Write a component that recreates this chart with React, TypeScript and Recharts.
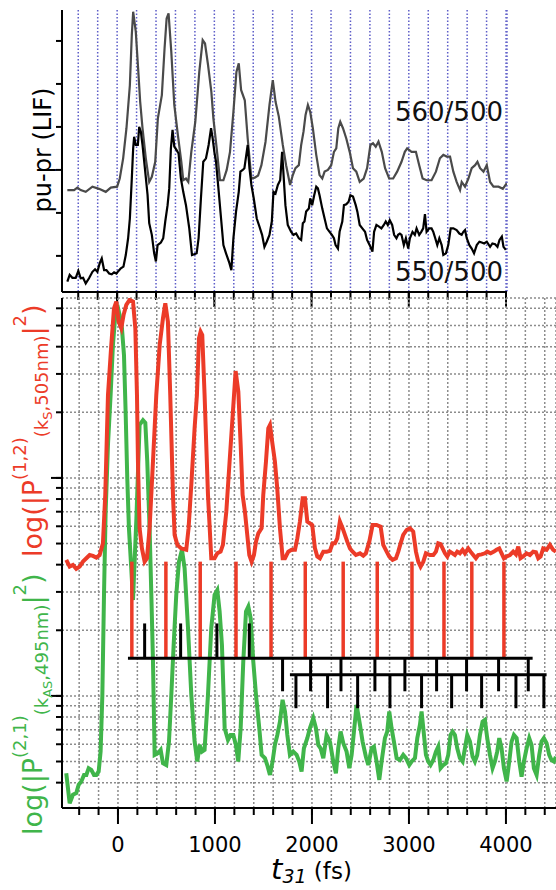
import React from 'react';
import { LineChart, Line, XAxis, YAxis, CartesianGrid, ReferenceLine } from 'recharts';

// pump-probe LIF traces (top panel), [t31 fs, signal]
const lif560 = [
  [-512, 2.53], [-443, 2.53], [-409, 2.59], [-375, 2.53], [-323, 2.49], [-254, 2.61], [-186, 2.56], [-117, 2.49],
  [-65, 2.59], [0, 2.61], [27, 2.8], [62, 3.27], [96, 3.97], [131, 4.97], [151, 6.14], [165, 6.68], [192, 6.21],
  [216, 5.36], [237, 4.59], [261, 3.97], [295, 3.27], [330, 2.72], [357, 2.84], [392, 3.19], [419, 4.2], [460, 4.74],
  [488, 5.83], [509, 6.52], [529, 6.64], [557, 5.75], [588, 4.51], [625, 3.81], [660, 3.19], [680, 2.76], [708, 2.8],
  [732, 2.72], [763, 3.42], [804, 4.12], [845, 5.28], [880, 6.02], [904, 5.94], [935, 5.44], [969, 4.82], [990, 4.2],
  [1024, 3.5], [1058, 2.76], [1093, 2.76], [1127, 3.0], [1161, 3.42], [1196, 4.35], [1227, 5.28], [1251, 5.48],
  [1275, 4.86], [1313, 4.62], [1343, 3.73], [1381, 2.8], [1416, 2.82], [1450, 2.87], [1484, 3.11], [1526, 3.65],
  [1567, 4.51], [1601, 5.09], [1629, 4.59], [1663, 4.24], [1704, 3.58], [1738, 3.11], [1779, 2.65], [1807, 2.88],
  [1834, 3.04], [1869, 3.11], [1893, 3.58], [1917, 3.89], [1938, 4.28], [1962, 4.51], [1986, 4.35], [2013, 3.97],
  [2048, 3.35], [2082, 2.88], [2110, 2.8], [2134, 2.96], [2168, 3.0], [2202, 3.11], [2230, 3.42], [2254, 3.5],
  [2275, 3.97], [2295, 4.12], [2323, 3.97], [2357, 3.73], [2392, 3.42], [2426, 3.04], [2460, 2.96], [2495, 2.72],
  [2536, 2.8], [2571, 3.04], [2605, 3.58], [2632, 3.62], [2660, 3.54], [2688, 3.66], [2722, 3.42], [2756, 3.04],
  [2798, 2.8], [2839, 2.8], [2880, 2.96], [2925, 3.19], [2959, 3.42], [2983, 3.5], [3028, 3.42], [3073, 3.42],
  [3107, 3.11], [3142, 2.8], [3183, 2.76], [3234, 2.76], [3279, 2.96], [3320, 3.27], [3355, 3.35], [3389, 3.31],
  [3424, 3.31], [3458, 2.96], [3492, 2.72], [3527, 2.53], [3544, 2.72], [3578, 2.61], [3613, 2.8], [3647, 3.04],
  [3682, 3.11], [3706, 3.19], [3733, 3.04], [3768, 2.96], [3802, 3.11], [3836, 2.72], [3871, 2.61], [3923, 2.61],
  [3967, 2.56], [4008, 2.69],
];

const lif550 = [
  [-512, 0.4], [-488, 0.56], [-460, 0.49], [-426, 0.49], [-399, 0.65], [-375, 0.48], [-350, 0.49], [-323, 0.36],
  [-289, 0.48], [-254, 0.63], [-227, 0.69], [-203, 0.63], [-179, 0.83], [-158, 0.94], [-134, 0.67], [-110, 0.67],
  [-82, 0.59], [-55, 0.57], [-31, 0.62], [-7, 0.59], [14, 0.65], [38, 0.71], [65, 0.75], [89, 1.02], [113, 1.41],
  [131, 1.87], [151, 2.8], [165, 3.5], [175, 3.77], [192, 3.58], [213, 3.58], [227, 4.0], [244, 3.89], [261, 3.58],
  [289, 2.96], [313, 2.42], [330, 1.76], [357, 1.49], [381, 1.06], [399, 0.87], [416, 1.25], [450, 1.31], [474, 1.41],
  [495, 1.8], [519, 2.18], [536, 2.57], [553, 3.5], [570, 3.93], [588, 3.54], [612, 3.46], [632, 3.38], [656, 2.8],
  [680, 2.49], [708, 2.18], [742, 1.64], [770, 1.02], [794, 1.04], [818, 1.06], [838, 1.41], [862, 2.34], [886, 3.19],
  [914, 3.27], [941, 3.58], [966, 3.97], [983, 3.73], [1000, 3.42], [1017, 3.19], [1045, 2.49], [1069, 1.87],
  [1093, 1.25], [1120, 1.06], [1155, 0.83], [1175, 0.67], [1196, 1.41], [1223, 2.03], [1251, 2.49], [1268, 2.96],
  [1292, 3.0], [1309, 3.04], [1326, 3.31], [1343, 3.58], [1361, 3.04], [1381, 2.65], [1405, 2.34], [1436, 1.87],
  [1464, 1.68], [1491, 1.49], [1515, 1.21], [1539, 1.33], [1567, 1.49], [1591, 1.8], [1608, 2.49], [1629, 2.45],
  [1653, 2.65], [1677, 2.76], [1697, 3.42], [1731, 2.18], [1755, 1.72], [1790, 1.56], [1814, 1.49], [1841, 1.52],
  [1869, 1.41], [1893, 1.37], [1910, 1.76], [1927, 1.8], [1944, 2.03], [1972, 2.1], [1986, 2.34], [2006, 2.18],
  [2027, 2.41], [2048, 2.61], [2065, 2.57], [2082, 2.41], [2110, 2.1], [2134, 1.87], [2158, 1.64], [2185, 1.56],
  [2209, 1.49], [2230, 1.41], [2247, 1.25], [2271, 1.17], [2288, 1.56], [2316, 1.8], [2333, 2.18], [2357, 2.2],
  [2381, 2.26], [2399, 2.41], [2426, 2.38], [2454, 2.18], [2471, 2.03], [2495, 1.72], [2522, 1.64], [2550, 1.56],
  [2571, 1.37], [2598, 1.25], [2626, 1.1], [2643, 1.56], [2667, 1.72], [2694, 1.68], [2718, 1.64], [2743, 1.72],
  [2763, 1.8], [2784, 1.72], [2804, 1.83], [2829, 1.72], [2849, 1.49], [2873, 1.41], [2890, 1.49], [2908, 1.52],
  [2925, 1.49], [2949, 1.25], [2970, 1.41], [2994, 1.17], [3011, 1.41], [3038, 1.56], [3062, 1.49], [3080, 1.64],
  [3107, 1.49], [3128, 1.56], [3148, 1.64], [3166, 1.97], [3183, 1.56], [3210, 1.64], [3234, 1.64], [3252, 1.56],
  [3272, 1.41], [3293, 1.25], [3314, 1.41], [3338, 1.25], [3355, 1.02], [3382, 1.06], [3406, 1.25], [3431, 1.64],
  [3458, 1.64], [3492, 1.6], [3520, 1.52], [3544, 1.49], [3561, 1.56], [3578, 1.6], [3596, 1.41], [3623, 1.25],
  [3647, 1.17], [3671, 1.06], [3699, 1.25], [3726, 1.33], [3750, 1.31], [3775, 1.29], [3802, 1.33], [3836, 1.21],
  [3860, 1.29], [3888, 1.27], [3912, 1.21], [3933, 1.37], [3957, 1.45], [3974, 1.21], [3998, 1.14],
];

// |P(1,2)|^2 (red) and |P(2,1)|^2 (green), log axis, [t31 fs, value]
const p12 = [
  [-533, 4.21], [-498, 3.92], [-464, 3.99], [-430, 3.83], [-395, 3.92], [-361, 4.13], [-326, 4.28], [-292, 4.43],
  [-258, 4.39], [-223, 4.31], [-189, 4.43], [-155, 5.01], [-131, 8.36], [-103, 24.0], [-69, 40.7], [-41, 60.0],
  [-17, 64.4], [7, 52.1], [34, 48.6], [58, 56.0], [86, 62.2], [120, 65.6], [155, 64.4], [179, 48.6], [196, 24.0],
  [206, 11.9], [223, 5.88], [247, 4.75], [275, 4.13], [299, 4.28], [326, 5.88], [361, 11.9], [395, 24.0], [430, 40.7],
  [464, 54.0], [488, 63.2], [515, 52.1], [539, 24.0], [567, 8.36], [584, 5.48], [612, 4.93], [653, 4.75], [704, 4.68],
  [728, 5.88], [756, 9.29], [790, 16.9], [814, 24.0], [835, 43.7], [852, 46.9], [869, 45.3], [893, 24.0], [928, 8.36],
  [962, 4.28], [996, 4.28], [1024, 4.51], [1058, 4.59], [1082, 4.93], [1117, 7.0], [1151, 11.9], [1185, 20.1],
  [1213, 30.9], [1241, 24.9], [1265, 14.2], [1285, 8.36], [1309, 7.0], [1333, 5.48], [1354, 4.43], [1378, 4.13],
  [1402, 4.43], [1423, 5.1], [1447, 5.57], [1481, 5.88], [1498, 8.36], [1526, 11.9], [1550, 16.9], [1567, 17.5],
  [1594, 14.2], [1618, 11.9], [1642, 8.97], [1670, 5.88], [1698, 4.28], [1722, 4.28], [1756, 4.59], [1790, 4.68],
  [1825, 4.68], [1849, 5.28], [1876, 6.31], [1904, 8.06], [1928, 8.06], [1952, 6.31], [1979, 6.19], [2003, 6.08],
  [2031, 4.75], [2055, 4.36], [2082, 4.28], [2117, 4.59], [2151, 4.59], [2185, 4.63], [2213, 5.01], [2237, 5.01],
  [2261, 5.28], [2288, 6.31], [2316, 5.88], [2340, 5.48], [2364, 5.1], [2392, 4.75], [2419, 4.59], [2453, 4.43],
  [2495, 4.51], [2529, 4.4], [2556, 4.51], [2591, 5.1], [2625, 6.08], [2666, 6.08], [2708, 5.97], [2735, 4.93],
  [2770, 4.59], [2797, 4.36], [2831, 4.21], [2866, 4.28], [2890, 4.59], [2914, 5.01], [2941, 5.48], [2976, 5.77],
  [3010, 5.88], [3044, 5.67], [3072, 4.59], [3096, 4.13], [3120, 3.92], [3148, 4.13], [3175, 4.51], [3216, 4.43],
  [3251, 4.43], [3278, 4.59], [3302, 5.01], [3326, 4.97], [3347, 4.75], [3371, 4.51], [3395, 4.36], [3422, 4.59],
  [3450, 4.51], [3474, 4.43], [3498, 4.59], [3525, 4.51], [3553, 4.68], [3577, 4.51], [3611, 4.75], [3635, 4.59],
  [3663, 4.43], [3690, 4.28], [3714, 4.43], [3749, 4.46], [3783, 4.51], [3807, 4.59], [3842, 4.51], [3876, 4.59],
  [3903, 4.68], [3931, 4.75], [3955, 4.51], [3979, 4.28], [4007, 4.36], [4041, 4.43], [4075, 4.59], [4103, 4.46],
  [4127, 4.84], [4151, 4.28], [4178, 4.36], [4213, 4.51], [4247, 4.43], [4281, 4.59], [4309, 4.56], [4333, 4.28],
  [4357, 4.36], [4384, 4.75], [4419, 4.68], [4453, 4.93], [4487, 4.68], [4515, 4.59],
];

const p21 = [
  [-533, 0.442], [-498, 0.322], [-464, 0.352], [-430, 0.358], [-405, 0.391], [-378, 0.405], [-350, 0.434],
  [-326, 0.434], [-302, 0.466], [-275, 0.458], [-247, 0.434], [-223, 0.434], [-199, 0.45], [-179, 0.555],
  [-161, 1.01], [-144, 2.91], [-127, 7.01], [-103, 14.2], [-76, 24.0], [-52, 40.7], [-27, 56.0], [-7, 62.2],
  [17, 56.0], [41, 48.6], [62, 36.6], [79, 20.1], [96, 9.97], [113, 5.88], [137, 3.85], [155, 2.75], [190, 6.5],
  [223, 17.5], [258, 18.4], [282, 17.9], [302, 11.9], [326, 5.88], [344, 2.91], [361, 1.44], [378, 0.536],
  [412, 0.546], [440, 0.565], [464, 0.491], [498, 0.482], [526, 0.617], [550, 1.01], [574, 1.71], [601, 2.91],
  [629, 4.13], [660, 4.68], [687, 3.85], [722, 2.05], [756, 1.01], [790, 0.617], [818, 0.5], [842, 0.596],
  [866, 0.555], [893, 0.565], [928, 1.01], [962, 2.05], [996, 2.91], [1024, 3.06], [1048, 2.44], [1072, 1.71],
  [1100, 0.711], [1134, 0.628], [1161, 0.662], [1189, 0.662], [1216, 0.596], [1240, 0.5], [1265, 0.711],
  [1292, 1.44], [1320, 2.44], [1344, 2.57], [1368, 2.27], [1395, 1.44], [1423, 1.01], [1457, 0.711], [1481, 0.536],
  [1515, 0.518], [1539, 0.482], [1567, 0.434], [1594, 0.5], [1618, 0.596], [1643, 0.662], [1670, 0.762],
  [1697, 0.959], [1722, 0.848], [1746, 0.662], [1773, 0.536], [1807, 0.555], [1842, 0.536], [1869, 0.5],
  [1893, 0.45], [1917, 0.575], [1952, 0.64], [1979, 0.711], [2014, 0.79], [2041, 0.711], [2065, 0.596],
  [2089, 0.575], [2117, 0.518], [2151, 0.662], [2185, 0.617], [2220, 0.5], [2247, 0.442], [2271, 0.575],
  [2295, 0.686], [2323, 0.607], [2357, 0.555], [2385, 0.466], [2409, 0.536], [2433, 0.686], [2460, 0.91],
  [2495, 0.736], [2522, 0.617], [2556, 0.526], [2581, 0.482], [2615, 0.575], [2639, 0.585], [2666, 0.5],
  [2694, 0.412], [2718, 0.5], [2752, 0.64], [2776, 0.686], [2797, 0.848], [2821, 0.711], [2845, 0.617],
  [2873, 0.518], [2907, 0.508], [2941, 0.536], [2969, 0.518], [3003, 0.482], [3027, 0.5], [3062, 0.518],
  [3086, 0.64], [3113, 0.736], [3130, 0.848], [3148, 0.711], [3175, 0.536], [3199, 0.5], [3223, 0.482],
  [3251, 0.508], [3278, 0.555], [3302, 0.585], [3326, 0.466], [3354, 0.482], [3381, 0.491], [3405, 0.536],
  [3429, 0.662], [3450, 0.686], [3474, 0.662], [3498, 0.575], [3525, 0.518], [3553, 0.5], [3577, 0.575],
  [3601, 0.662], [3629, 0.617], [3656, 0.526], [3680, 0.5], [3704, 0.536], [3732, 0.662], [3759, 0.762],
  [3783, 0.776], [3807, 0.64], [3835, 0.536], [3862, 0.466], [3886, 0.5], [3910, 0.555], [3931, 0.64],
  [3955, 0.575], [3979, 0.466], [4007, 0.405], [4034, 0.5], [4058, 0.617], [4082, 0.662], [4110, 0.64],
  [4137, 0.5], [4161, 0.426], [4185, 0.5], [4213, 0.575], [4240, 0.64], [4264, 0.596], [4288, 0.466],
  [4316, 0.434], [4343, 0.536], [4367, 0.617], [4391, 0.64], [4419, 0.607], [4446, 0.536], [4470, 0.508],
  [4494, 0.5], [4515, 0.526],
];

// assignment tree drawn under the red trace
const redMarks = [143, 494, 848, 1217, 1578, 1931, 2322, 2673, 3031, 3361, 3648, 3979];
const redMarkSpan = [1.49, 4.13];
const branchSpans = [[103, 4275, 1.49], [1773, 4419, 1.25]];
const upTicks = [275, 646, 1020, 1354];
const upTickTop = 2.15;
const downTicksA = [1697, 1986, 2299, 2649, 2958, 3285, 3594, 3924, 4230];
const downTicksAEnd = 1.05;
const downTicksB = [1835, 2161, 2471, 2804, 3130, 3440, 3749, 4103, 4391];
const downTicksBEnd = 0.878;

const topMinorTicks = [-400, -200, 0, 200, 400, 600, 800, 1000, 1200, 1400, 1600, 1800, 2000, 2200, 2400, 2600, 2800, 3000, 3200, 3400, 3600, 3800, 4000];
const bottomMinorTicks = [...topMinorTicks, 4200, 4400];
const majorTicks = [0, 1000, 2000, 3000, 4000];
const topYTicks = [1, 2, 3, 4, 5, 6];
const logTicks = [0.4, 0.5, 0.6, 0.7, 0.8, 0.9, 1, 2, 3, 4, 5, 6, 7, 8, 9, 10, 20, 30, 40, 50, 60];
const logMajorTicks = [1, 10];

const toRows = (pts: number[][]) => pts.map(([t, v]) => ({ t, v }));

const RED = '#ec3b28';
const GREEN = '#40b54a';
const FONT = 'DejaVu Sans, Verdana, sans-serif';
const blank = () => '';

function TopPanel() {
  return (
    <LineChart width={556} height={310} margin={{ top: 10, right: 49, left: 61, bottom: 16 }}>
      <CartesianGrid horizontal={false} stroke="#5d5dc8" strokeWidth={1.5} strokeDasharray="1.5 2" />
      <XAxis type="number" dataKey="t" domain={[-567, 4010]} allowDataOverflow ticks={topMinorTicks} interval={0}
        height={1} tickSize={8} tickFormatter={blank} stroke="#000" strokeWidth={2} />
      <XAxis xAxisId="maj" type="number" dataKey="t" domain={[-567, 4010]} allowDataOverflow ticks={majorTicks}
        interval={0} height={1} tickSize={14} tickFormatter={blank} axisLine={false} stroke="#000" strokeWidth={2} />
      <YAxis type="number" domain={[0.16, 6.72]} allowDataOverflow ticks={topYTicks} interval={0} width={1}
        tickSize={6} tickFormatter={blank} stroke="#000" strokeWidth={2} />
      <Line data={toRows(lif560)} dataKey="v" stroke="#4a4a4a" strokeWidth={2.2} dot={false} isAnimationActive={false} />
      <Line data={toRows(lif550)} dataKey="v" stroke="#000" strokeWidth={2.2} dot={false} isAnimationActive={false} />
    </LineChart>
  );
}

function BottomPanel() {
  return (
    <LineChart width={556} height={600} margin={{ top: 8, right: 0, left: 60, bottom: 80 }}>
      <CartesianGrid stroke="#8c8c8c" strokeWidth={1.5} strokeDasharray="2 2" />
      <XAxis type="number" dataKey="t" domain={[-577, 4516]} allowDataOverflow ticks={bottomMinorTicks} interval={0}
        height={1} tickSize={7} tickFormatter={blank} stroke="#000" strokeWidth={2} />
      <XAxis xAxisId="maj" type="number" dataKey="t" domain={[-577, 4516]} allowDataOverflow ticks={majorTicks}
        interval={0} height={1} tickSize={15} tickMargin={13} axisLine={false} stroke="#000" strokeWidth={2}
        tick={{ fill: '#000', stroke: 'none', fontSize: 21, fontFamily: FONT }} />
      <YAxis type="number" scale="log" domain={[0.306, 66.9]} allowDataOverflow ticks={logTicks} interval={0} width={1}
        tickSize={6} tickFormatter={blank} stroke="#000" strokeWidth={2} />
      <YAxis yAxisId="maj" type="number" scale="log" domain={[0.306, 66.9]} allowDataOverflow ticks={logMajorTicks}
        interval={0} width={1} tickSize={10} tickFormatter={blank} axisLine={false} stroke="#000" strokeWidth={2} />
      <Line data={toRows(p21)} dataKey="v" stroke={GREEN} strokeWidth={4} dot={false} isAnimationActive={false} />
      <Line data={toRows(p12)} dataKey="v" stroke={RED} strokeWidth={4} dot={false} isAnimationActive={false} />
      {redMarks.map((t) => (
        <ReferenceLine key={`r${t}`} segment={[{ x: t, y: redMarkSpan[0] }, { x: t, y: redMarkSpan[1] }]}
          stroke={RED} strokeWidth={3.5} />
      ))}
      {branchSpans.map(([a, b, lvl]) => (
        <ReferenceLine key={`b${a}`} segment={[{ x: a, y: lvl }, { x: b, y: lvl }]} stroke="#000" strokeWidth={3} />
      ))}
      {upTicks.map((t) => (
        <ReferenceLine key={`u${t}`} segment={[{ x: t, y: branchSpans[0][2] }, { x: t, y: upTickTop }]}
          stroke="#000" strokeWidth={3} />
      ))}
      {downTicksA.map((t) => (
        <ReferenceLine key={`da${t}`} segment={[{ x: t, y: branchSpans[0][2] }, { x: t, y: downTicksAEnd }]}
          stroke="#000" strokeWidth={3} />
      ))}
      {downTicksB.map((t) => (
        <ReferenceLine key={`db${t}`} segment={[{ x: t, y: branchSpans[1][2] }, { x: t, y: downTicksBEnd }]}
          stroke="#000" strokeWidth={3} />
      ))}
    </LineChart>
  );
}

function Labels() {
  return (
    <svg width={556} height={890} style={{ position: 'absolute', left: 0, top: 0, pointerEvents: 'none' }}>
      <text transform="translate(51,150) rotate(-90)" textAnchor="middle" fontSize={24} fontFamily={FONT} fill="#000">
        pu-pr (LIF)
      </text>
      <text x={503} y={121} textAnchor="end" fontSize={26} fontFamily={FONT} fill="#111">560/500</text>
      <text x={503} y={281} textAnchor="end" fontSize={26} fontFamily={FONT} fill="#111">550/500</text>

      <text transform="translate(42,557) rotate(-90)" fontSize={27} fontFamily={FONT} fill={RED}>
        log(|P<tspan fontSize={18} dy={-16}>(1,2)</tspan>
        <tspan fontSize={18} dy={21.5}>(k</tspan>
        <tspan fontSize={13} dy={4.5}>S</tspan>
        <tspan fontSize={18} dy={-4.5}>,505nm)</tspan>
        <tspan fontSize={27} dy={-5.5}>|</tspan>
        <tspan fontSize={18} dy={-16}>2</tspan>
        <tspan fontSize={27} dy={16}>)</tspan>
      </text>
      <text transform="translate(42,835) rotate(-90)" fontSize={27} fontFamily={FONT} fill={GREEN}>
        log(|P<tspan fontSize={18} dy={-16}>(2,1)</tspan>
        <tspan fontSize={18} dy={21.5}>(k</tspan>
        <tspan fontSize={13} dy={4.5}>AS</tspan>
        <tspan fontSize={18} dy={-4.5}>,495nm)</tspan>
        <tspan fontSize={27} dy={-5.5}>|</tspan>
        <tspan fontSize={18} dy={-16}>2</tspan>
        <tspan fontSize={27} dy={16}>)</tspan>
      </text>

      <text x={271} y={879} fontSize={29} fontFamily={FONT} fontStyle="italic" fill="#000">
        t<tspan fontSize={19} dy={4}>31</tspan>
        <tspan fontSize={23} fontStyle="normal" dy={-4}> (fs)</tspan>
      </text>
    </svg>
  );
}

export default function App() {
  return (
    <div style={{ position: 'absolute', left: 0, top: 0, width: 556, height: 890, overflow: 'hidden', background: '#fff' }}>
      <div style={{ position: 'absolute', left: 0, top: 0 }}>
        <TopPanel />
      </div>
      <div style={{ position: 'absolute', left: 0, top: 290 }}>
        <BottomPanel />
      </div>
      <Labels />
    </div>
  );
}
